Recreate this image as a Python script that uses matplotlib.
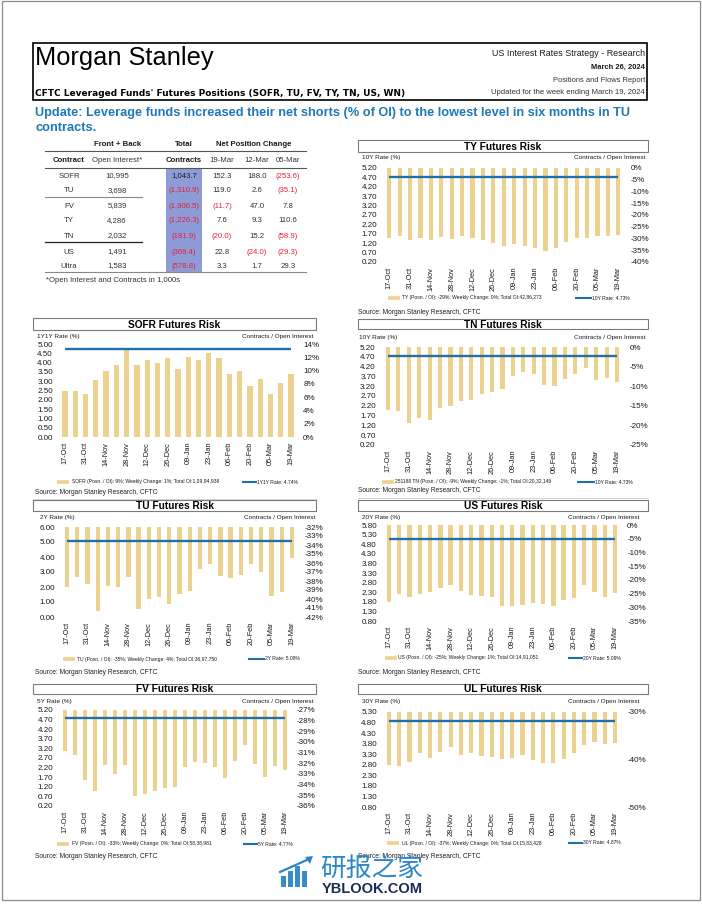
import matplotlib
matplotlib.use('Agg')
import matplotlib.pyplot as plt
from matplotlib.patches import Rectangle, Polygon
from matplotlib.lines import Line2D
import numpy as np

plt.rcParams['font.family'] = ['Liberation Sans', 'DejaVu Sans']

W, H = 702, 907

# ---------------- data ----------------
dates = ['17-Oct', '24-Oct', '31-Oct', '07-Nov', '14-Nov', '21-Nov', '28-Nov', '05-Dec',
         '12-Dec', '19-Dec', '26-Dec', '02-Jan', '09-Jan', '16-Jan', '23-Jan', '30-Jan',
         '06-Feb', '13-Feb', '20-Feb', '27-Feb', '05-Mar', '12-Mar', '19-Mar']

ty_pct = [-29.8, -29.1, -30.5, -29.6, -30.5, -29.4, -30.4, -29.1, -29.6, -30.8, -31.9, -33.2,
          -32.3, -33.2, -34.0, -35.5, -34.0, -31.5, -29.9, -29.8, -28.9, -28.9, -28.4]
sofr_pct = [6.87, 6.97, 6.42, 8.53, 9.93, 10.89, 13.05, 10.89, 11.64, 11.19, 11.94, 10.24,
            12.04, 11.64, 12.64, 11.94, 9.48, 9.88, 7.73, 8.78, 6.47, 8.13, 9.43]
tn_pct = [-16.1, -16.2, -19.5, -18.2, -18.5, -15.5, -15.0, -13.9, -13.4, -11.9, -11.4, -10.8,
          -7.3, -6.4, -6.9, -9.7, -9.9, -8.2, -7.0, -5.3, -8.4, -7.9, -8.9]
tu_pct = [-38.70, -37.59, -38.30, -41.37, -38.59, -38.70, -37.52, -41.07, -40.00, -39.74,
          -40.56, -39.44, -39.15, -36.63, -36.07, -37.48, -37.63, -37.37, -36.15, -37.00,
          -39.67, -39.26, -35.44]
us_pct = [-28.0, -25.1, -26.2, -25.0, -24.6, -22.8, -21.7, -24.2, -25.6, -25.8, -26.2, -29.6,
          -29.7, -29.3, -28.4, -28.9, -29.6, -27.3, -26.7, -22.0, -24.6, -26.1, -24.7]
fv_pct = [-30.84, -31.21, -33.60, -34.55, -32.13, -32.97, -32.13, -35.02, -34.89, -34.55,
          -34.33, -34.23, -32.35, -31.90, -32.00, -32.31, -33.38, -31.81, -30.30, -32.09,
          -33.32, -32.28, -32.60]
ul_pct = [-41.2, -41.3, -40.6, -38.7, -39.7, -38.5, -37.4, -39.1, -38.7, -39.2, -39.4, -39.8,
          -39.6, -39.1, -40.0, -40.7, -40.7, -39.8, -38.7, -36.9, -36.4, -36.7, -36.6]

ty_rate, sofr_rate, tn_rate, tu_rate, us_rate, fv_rate, ul_rate = 4.73, 4.74, 4.73, 5.08, 5.09, 4.77, 4.87

ty_rate_ticks = [0.20, 0.70, 1.20, 1.70, 2.20, 2.70, 3.20, 3.70, 4.20, 4.70, 5.20]
ty_pct_ticks = [0, -5, -10, -15, -20, -25, -30, -35, -40]
sofr_rate_ticks = [0.00, 0.50, 1.00, 1.50, 2.00, 2.50, 3.00, 3.50, 4.00, 4.50, 5.00]
sofr_pct_ticks = [14, 12, 10, 8, 6, 4, 2, 0]
tn_rate_ticks = [0.20, 0.70, 1.20, 1.70, 2.20, 2.70, 3.20, 3.70, 4.20, 4.70, 5.20]
tn_pct_ticks = [0, -5, -10, -15, -20, -25]
tu_rate_ticks = [0.00, 1.00, 2.00, 3.00, 4.00, 5.00, 6.00]
tu_pct_ticks = [-32, -33, -34, -35, -36, -37, -38, -39, -40, -41, -42]
us_rate_ticks = [0.80, 1.30, 1.80, 2.30, 2.80, 3.30, 3.80, 4.30, 4.80, 5.30, 5.80]
us_pct_ticks = [0, -5, -10, -15, -20, -25, -30, -35]
fv_rate_ticks = [0.20, 0.70, 1.20, 1.70, 2.20, 2.70, 3.20, 3.70, 4.20, 4.70, 5.20]
fv_pct_ticks = [-27, -28, -29, -30, -31, -32, -33, -34, -35, -36]
ul_rate_ticks = [0.80, 1.30, 1.80, 2.30, 2.80, 3.30, 3.80, 4.30, 4.80, 5.30]
ul_pct_ticks = [-30, -40, -50]

table_contract = ['SOFR', 'TU', 'FV', 'TY', 'TN', 'US', 'Ultra']
table_oi = ['10,995', '3,698', '5,839', '4,286', '2,032', '1,491', '1,583']
table_total = [1043.7, -1310.9, -1900.5, -1226.3, -181.9, -369.4, -578.8]
chg_19mar = [152.3, 119.0, -11.7, 7.6, -20.0, 22.8, 3.3]
chg_12mar = [188.0, 2.6, 47.0, 9.3, 15.2, -24.0, 1.7]
chg_05mar = [-253.6, -35.1, 7.8, 110.6, -58.9, -29.3, 29.3]

# ---------------- styling ----------------
BAR = '#EDD18E'
LINE = '#2170a9'
RED = '#e3203a'
TXT = '#1a1a1a'

fig = plt.figure(figsize=(W / 100, H / 100), dpi=100)


def fx(x):
    return x / W


def fy(y):
    return 1 - y / H


def ftext(x, y, s, **kw):
    kw.setdefault('color', TXT)
    kw.setdefault('va', 'center')
    return fig.text(fx(x), fy(y), s, **kw)


def frect(x0, y0, x1, y1, **kw):
    r = Rectangle((fx(x0), fy(y1)), (x1 - x0) / W, (y1 - y0) / H,
                  transform=fig.transFigure, **kw)
    fig.add_artist(r)
    return r


def fline(x0, x1, y0, y1, **kw):
    fig.add_artist(Line2D([fx(x0), fx(x1)], [fy(y0), fy(y1)], transform=fig.transFigure, **kw))


# page border
frect(2, 1, 700, 900, fill=False, ec='#8c8c8c', lw=0.9)

# header
frect(33, 43, 647, 100, fill=False, ec='black', lw=1.2)
ftext(35, 58, 'Morgan Stanley', fontsize=18.3, color='black', ha='left')
ftext(645, 53, 'US Interest Rates Strategy - Research', fontsize=6.4, ha='right')
ftext(645, 67, 'March 26, 2024', fontsize=5.4, ha='right', fontweight='bold')
ftext(645, 81, 'Positions and Flows Report', fontsize=5.4, ha='right', color='#333333')
ftext(645, 93, 'Updated for the week ending March 19, 2024', fontsize=5.5, ha='right', color='#333333')
ftext(35, 93, "CFTC Leveraged Funds' Futures Positions (SOFR, TU, FV, TY, TN, US, WN)",
      fontsize=6.5, ha='left', fontweight='bold', family='DejaVu Sans', color='black')

HEAD = '#1f78b8'
ftext(35, 113, 'Update: Leverage funds increased their net shorts (% of OI) to the lowest level in six months in TU',
      fontsize=9.2, ha='left', fontweight='bold', color=HEAD)
ftext(35, 128, 'contracts.', fontsize=9.2, ha='left', fontweight='bold', color=HEAD)

# ---------------- table ----------------
TFS = 5.6
col_x = [69, 117, 184, 222, 257, 288]
row_y = [176, 191, 206, 221, 236, 252, 266]
frect(166, 168, 202, 272, fc='#8d9cd6', ec='none')
ftext(118, 145, 'Front + Back', fontsize=TFS, ha='center', fontweight='bold')
ftext(184, 145, 'Total', fontsize=TFS, ha='center', fontweight='bold')
ftext(254, 145, 'Net Position Change', fontsize=TFS, ha='center', fontweight='bold')
fline(45, 306, 151, 151, color='#555555', lw=0.8)
ftext(col_x[0], 161, 'Contract', fontsize=TFS, ha='center', fontweight='bold')
ftext(col_x[1], 161, 'Open Interest*', fontsize=TFS, ha='center', color='#333333')
ftext(col_x[2], 161, 'Contracts', fontsize=TFS, ha='center', fontweight='bold')
for cx, lab in zip(col_x[3:], ['19-Mar', '12-Mar', '05-Mar']):
    ftext(cx, 161, lab, fontsize=TFS, ha='center', color='#333333')
fline(45, 306, 168, 168, color='#555555', lw=0.8)
fline(45, 142, 197, 197, color='#888888', lw=0.8)
fline(45, 142, 242, 242, color='#222222', lw=0.9)
fline(45, 306, 272, 272, color='#888888', lw=0.8)


def fmt_num(v):
    s = '{:,.1f}'.format(abs(v))
    return ('(' + s + ')', RED) if v < 0 else (s, '#333333')


for i, y in enumerate(row_y):
    ftext(col_x[0], y, table_contract[i], fontsize=TFS, ha='center', color='#333333')
    ftext(col_x[1], y, table_oi[i], fontsize=TFS, ha='center', color='#333333')
    for cx, arr in zip(col_x[2:], [table_total, chg_19mar, chg_12mar, chg_05mar]):
        s, c = fmt_num(arr[i])
        if cx == col_x[2] and arr[i] > 0:
            c = '#1a1a2a'
        ftext(cx, y, s, fontsize=TFS, ha='center', color=c)
ftext(46, 281, '*Open Interest and Contracts in 1,000s', fontsize=TFS, ha='left', color='#333333')


# ---------------- charts ----------------
def chart(title, tbox, x_first, x_last, y_top, y_bot, pct, pct_ticks, rate, rate_ticks,
          ylab, ylab_xy, rlab_xy, leg1, leg2, leg_y, leg_x, src_xy, bar_w, from_top):
    s = (x_last - x_first) / 22
    left = x_first - 0.7 * s
    right = x_last + 0.7 * s
    ax = fig.add_axes([fx(left), fy(y_bot), (right - left) / W, (y_bot - y_top) / H])
    ax2 = ax.twinx()
    x = np.arange(len(pct))
    lo, hi = min(pct_ticks), max(pct_ticks)
    ax.set_xlim(-0.7, len(pct) - 0.3)
    ax.set_ylim(lo, hi)
    p = np.array(pct)
    if from_top:
        ax.bar(x, p - hi, bottom=hi, width=bar_w, color=BAR, zorder=2)
    else:
        ax.bar(x, p, width=bar_w, color=BAR, zorder=2)
    ax.yaxis.tick_right()
    ax.set_yticks(pct_ticks)
    ax.set_yticklabels(['{:.0f}%'.format(v) for v in pct_ticks])
    ax.tick_params(axis='y', length=0, pad=3.6, labelsize=5.8, labelcolor=TXT)
    ax.set_xticks(x[::2])
    ax.set_xticklabels(dates[::2], rotation=90)
    ax.tick_params(axis='x', length=0, pad=3.5, labelsize=5.3, labelcolor=TXT)
    for sp in ax.spines.values():
        sp.set_visible(False)

    ax2.set_ylim(rate_ticks[0], rate_ticks[-1])
    ax2.plot([x[0], x[-1]], [rate, rate], color=LINE, lw=1.7, solid_capstyle='butt')
    ax2.yaxis.tick_left()
    ax2.set_yticks(rate_ticks)
    ax2.set_yticklabels(['{:.2f}'.format(v) for v in rate_ticks])
    ax2.tick_params(axis='y', length=0, pad=3.6, labelsize=5.8, labelcolor=TXT)
    for sp in ax2.spines.values():
        sp.set_visible(False)

    # title box
    x0, x1, ty0, ty1 = tbox
    frect(x0, ty0, x1, ty1, fc='white', ec='#7a7a7a', lw=0.8)
    ftext((x0 + x1) / 2, (ty0 + ty1) / 2 + 0.5, title, fontsize=7.3, fontweight='bold',
          ha='center', color='black')
    ftext(ylab_xy[0], ylab_xy[1], ylab, fontsize=4.6, ha='left')
    ftext(rlab_xy[0], rlab_xy[1], 'Contracts / Open Interest', fontsize=4.6, ha='right')

    # legend
    bx0, tx1, lx0, lx1 = leg_x
    fline(bx0, bx0 + 12, leg_y, leg_y, color=BAR, lw=2.6, solid_capstyle='butt')
    ftext(tx1, leg_y, leg1, fontsize=3.6, ha='left')
    fline(lx0, lx1, leg_y, leg_y, color=LINE, lw=1.5, solid_capstyle='butt')
    ftext(lx1, leg_y, leg2, fontsize=3.6, ha='left')

    ftext(src_xy[0], src_xy[1], 'Source: Morgan Stanley Research, CFTC', fontsize=4.8, ha='left',
          color='#222222')


chart('TY Futures Risk', (358, 648, 140, 152), 389.3, 618.3, 168, 262, ty_pct, ty_pct_ticks,
      ty_rate, ty_rate_ticks, '10Y Rate (%)', (362, 158), (645, 158),
      'TY (Posn. / OI): -29%; Weekly Change: 0%; Total OI:42,86,273', '10Y Rate: 4.73%',
      298, (388, 402, 575, 592), (358, 313), 0.4, True)

chart('SOFR Futures Risk', (33, 316, 318, 330), 65, 291, 344, 437, sofr_pct, sofr_pct_ticks,
      sofr_rate, sofr_rate_ticks, '1Y1Y Rate (%)', (37, 336), (314, 336),
      'SOFR (Posn. / OI): 9%; Weekly Change: 1%; Total OI:1,09,94,938', '1Y1Y Rate: 4.74%',
      482, (57, 72, 242, 257), (35, 492), 0.52, False)

chart('TN Futures Risk', (358, 648, 319, 329), 388, 617, 347, 445, tn_pct, tn_pct_ticks,
      tn_rate, tn_rate_ticks, '10Y Rate (%)', (359, 337), (646, 337),
      '251188 TN (Posn. / OI): -9%; Weekly Change: -1%; Total OI:20,32,146', '10Y Rate: 4.73%',
      482, (382, 395, 577, 595), (358, 491), 0.4, True)

chart('TU Futures Risk', (33, 316, 500, 511), 67, 292, 527, 617, tu_pct, tu_pct_ticks,
      tu_rate, tu_rate_ticks, '2Y Rate (%)', (40, 518), (316, 518),
      'TU (Posn. / OI): -35%; Weekly Change: 4%; Total OI:36,97,750', '2Y Rate: 5.08%',
      659, (63, 77, 248, 265), (35, 673), 0.42, True)

chart('US Futures Risk', (358, 648, 500, 511), 389, 615, 525, 621, us_pct, us_pct_ticks,
      us_rate, us_rate_ticks, '20Y Rate (%)', (362, 517), (640, 517),
      'US (Posn. / OI): -25%; Weekly Change: 1%; Total OI:14,91,051', '20Y Rate: 5.09%',
      658, (385, 398, 568, 583), (358, 673), 0.42, True)

chart('FV Futures Risk', (33, 316, 684, 694), 65, 285, 710, 806, fv_pct, fv_pct_ticks,
      fv_rate, fv_rate_ticks, '5Y Rate (%)', (37, 701), (313, 701),
      'FV (Posn. / OI): -33%; Weekly Change: 0%; Total OI:58,38,981', '5Y Rate: 4.77%',
      844, (57, 72, 243, 258), (35, 856), 0.4, True)

chart('UL Futures Risk', (358, 648, 684, 694), 389, 615, 712, 807, ul_pct, ul_pct_ticks,
      ul_rate, ul_rate_ticks, '30Y Rate (%)', (362, 701), (640, 701),
      'UL (Posn. / OI): -37%; Weekly Change: 0%; Total OI:15,83,428', '30Y Rate: 4.87%',
      843, (387, 402, 568, 583), (358, 856), 0.4, True)

# faint separators
fline(33, 317, 499, 499, color='#d0d0d0', lw=0.6)
fline(358, 648, 498, 498, color='#d0d0d0', lw=0.6)

# ---------------- watermark ----------------
WM = '#2c86c6'
for (bx0, bx1, by0) in [(281, 286, 876), (288, 293, 871), (295, 300, 866), (302, 307, 871)]:
    frect(bx0, by0, bx1, 887, fc=WM, ec='none', alpha=0.95)
fline(280, 309, 872, 859, color=WM, lw=1.6)
fig.add_artist(Polygon([[fx(313), fy(856)], [fx(305), fy(857)], [fx(310), fy(864)]],
                       closed=True, transform=fig.transFigure, fc=WM, ec='none'))
ftext(372, 869, '研报之家', fontsize=18.5, ha='center', color=WM,
      family=['Noto Sans CJK SC', 'DejaVu Sans'])
ftext(372, 889, 'YBLOOK.COM', fontsize=10.5, ha='center', color='#1c2c55', fontweight='bold')

fig.savefig('out.png', dpi=100, facecolor='white')
